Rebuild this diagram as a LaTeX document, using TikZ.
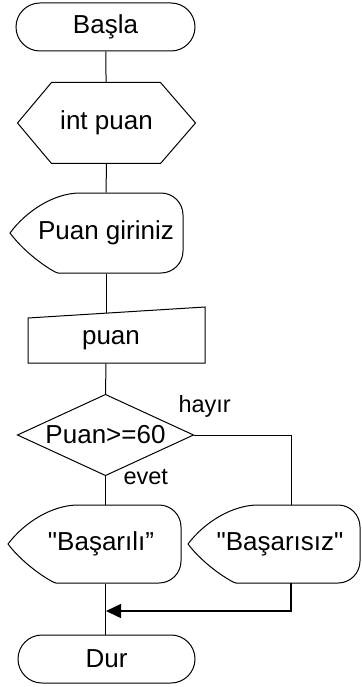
\documentclass[tikz,border=0pt]{standalone}
\usepackage{fontspec}
\setmainfont{Liberation Sans}
\usetikzlibrary{%
  arrows.meta,%
  shapes.misc,% wg. rounded rectangle
  calc,%
  positioning%
}

\tikzset{
  yazi/.style={inner sep=0pt, font=\fontsize{26}{30}\selectfont},
  uc/.style={yazi, rounded rectangle, draw, minimum height=48pt},
  kutu/.style={yazi, minimum height=80pt},
  etiket/.style={inner sep=0pt, anchor=base west, font=\fontsize{23.5}{28}\selectfont}
}
\newcommand{\tirnak}{\XeTeXglyph\XeTeXcharglyph"22\relax}

\begin{document}
\begin{tikzpicture}[x=1pt, y=-1pt, line width=1pt]
\useasboundingbox (0,0) rectangle (361,687);

% --------
\node[uc, minimum width=179pt] (basla) at (105.5,27) {Başla};

% --------
\node[kutu, minimum width=177pt] (tanim) at (106.5,123) {int puan};
\draw (tanim.west) -- ([xshift=34pt]tanim.north west) -- ([xshift=-35pt]tanim.north east)
  -- (tanim.east) -- ([xshift=-35pt]tanim.south east) -- ([xshift=34pt]tanim.south west) -- cycle;

% --------
\node[kutu] (mesaj) at (106,233) {Puan giriniz};
\draw ($(mesaj)+(-96,0)$) .. controls ($(mesaj)+(-79,-23)$) and ($(mesaj)+(-51,-40)$) .. ($(mesaj)+(-26,-40)$)
  [rounded corners=22pt] -- ($(mesaj)+(77,-40)$) -- ($(mesaj)+(77,40)$) -- ($(mesaj)+(-26,40)$)
  [sharp corners] .. controls ($(mesaj)+(-51,40)$) and ($(mesaj)+(-79,23)$) .. cycle;

% --------
\node[yazi, minimum height=46pt] (giris) at (111,340) {puan};
\draw ($(giris)+(-83,23)$) -- ($(giris)+(-83,-22)$) -- ($(giris)+(94,-33)$) -- ($(giris)+(94,23)$) -- cycle;
\coordinate (girisust) at (106,313.2);

% --------
\node[kutu, minimum width=175pt] (karar) at (105.5,435) {Puan>=60};
\draw (karar.west) -- (karar.north) -- (karar.east) -- (karar.south) -- cycle;
\node[etiket] (hayir) at (178,412) {hayır};
\node[etiket] (evet) at (123,484) {evet};

% --------
\node[kutu, minimum height=78pt] (basarili) at (101,544) {\tirnak Başarılı”};
\draw ($(basarili)+(-93,0)$) .. controls ($(basarili)+(-76,-22.5)$) and ($(basarili)+(-48,-39)$) .. ($(basarili)+(-23,-39)$)
  [rounded corners=22pt] -- ($(basarili)+(80,-39)$) -- ($(basarili)+(80,39)$) -- ($(basarili)+(-23,39)$)
  [sharp corners] .. controls ($(basarili)+(-48,39)$) and ($(basarili)+(-76,22.5)$) .. cycle;

\node[kutu, minimum height=78pt] (basarisiz) at (280,544) {\tirnak Başarısız\tirnak};
\draw ($(basarisiz)+(-92,0)$) .. controls ($(basarisiz)+(-75,-22.5)$) and ($(basarisiz)+(-47,-39)$) .. ($(basarisiz)+(-22,-39)$)
  [rounded corners=22pt] -- ($(basarisiz)+(80,-39)$) -- ($(basarisiz)+(80,39)$) -- ($(basarisiz)+(-22,39)$)
  [sharp corners] .. controls ($(basarisiz)+(-47,39)$) and ($(basarisiz)+(-75,22.5)$) .. cycle;
\coordinate (hayirust) at (291,505);
\coordinate (hayiralt) at (291,583);
\coordinate (birles) at (106,611);

% --------
\node[uc, minimum width=177pt] (dur) at (106.5,659) {Dur};

% -------- baglantilar
\draw (basla) -- (tanim);
\draw (tanim) -- (mesaj);
\draw (mesaj.south) -- (girisust);
\draw (mesaj.south |- giris.south) -- (karar.north);
\draw (karar.south) -- (karar.south |- basarili.north);
\draw (karar.east) -| (hayirust);
\draw (karar.south |- basarili.south) -- (karar.south |- dur.north);
\draw [-{Triangle[length=15pt,width=14pt]}, line width=1.4pt] (hayiralt) |- (birles);

\end{tikzpicture}
\end{document}
